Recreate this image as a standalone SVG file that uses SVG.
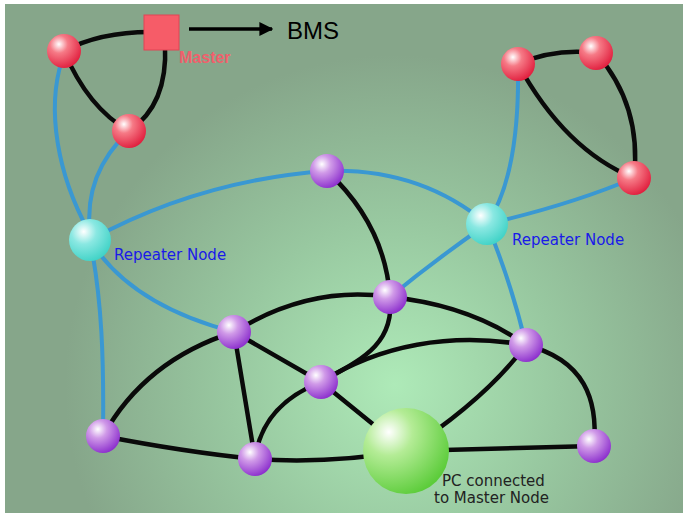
<svg xmlns="http://www.w3.org/2000/svg" width="683" height="517" viewBox="0 0 683 517">
<defs>
<radialGradient id="bg" cx="395" cy="385" r="330" gradientUnits="userSpaceOnUse">
<stop offset="0" stop-color="#aeeab8"/>
<stop offset="0.5" stop-color="#98c8a0"/>
<stop offset="1" stop-color="#86a68a"/>
</radialGradient>
<radialGradient id="red" cx="0.35" cy="0.3" r="0.75">
<stop offset="0" stop-color="#ffffff"/>
<stop offset="0.35" stop-color="#f67a86"/>
<stop offset="1" stop-color="#e01c3c"/>
</radialGradient>
<radialGradient id="purple" cx="0.35" cy="0.3" r="0.75">
<stop offset="0" stop-color="#ffffff"/>
<stop offset="0.35" stop-color="#d09ae8"/>
<stop offset="1" stop-color="#8a2ccc"/>
</radialGradient>
<radialGradient id="cyan" cx="0.35" cy="0.3" r="0.75">
<stop offset="0" stop-color="#ffffff"/>
<stop offset="0.4" stop-color="#8ae8e2"/>
<stop offset="1" stop-color="#3ed2c6"/>
</radialGradient>
<radialGradient id="green" cx="0.3" cy="0.28" r="0.78">
<stop offset="0" stop-color="#ffffff"/>
<stop offset="0.35" stop-color="#b4ec96"/>
<stop offset="1" stop-color="#5ccc3a"/>
</radialGradient>
<marker id="arrow" viewBox="0 0 10 10" refX="9" refY="5" markerWidth="4" markerHeight="4" orient="auto" markerUnits="strokeWidth">
<path d="M0,0 L10,5 L0,10 Z" fill="#000"/>
</marker>
</defs>
<style>
.blk{fill:none;stroke:#0a0a0a;stroke-width:4.5;stroke-linecap:round}
.blu{fill:none;stroke:#3a98d2;stroke-width:4;stroke-linecap:round}
.lbl{font-family:"DejaVu Sans","Liberation Sans",sans-serif;font-size:15px}
</style>
<rect x="0" y="0" width="683" height="517" fill="#ffffff"/>
<rect x="5" y="4" width="678" height="509" fill="url(#bg)"/>
<g id="connectors">
<path class="blk" d="M64,51 Q100,32 150,32"/>
<path class="blk" d="M165,45 Q168,105 129,131"/>
<path class="blk" d="M64,51 Q88,108 129,131"/>
<path class="blk" d="M518,64 Q555,48 596,53"/>
<path class="blk" d="M596,53 Q642,105 634,178"/>
<path class="blk" d="M518,64 Q565,150 634,178"/>
<path class="blu" d="M62,60 C46,110 58,175 88,230"/>
<path class="blu" d="M129,131 C98,160 86,195 90,232"/>
<path class="blu" d="M90,240 Q200,180 327,171"/>
<path class="blu" d="M327,171 Q420,168 487,224"/>
<path class="blu" d="M90,240 Q130,305 234,332"/>
<path class="blu" d="M90,240 C102,300 104,360 103,436"/>
<path class="blu" d="M518,64 Q520,175 487,224"/>
<path class="blu" d="M487,224 Q570,205 634,178"/>
<path class="blu" d="M487,224 Q435,260 390,297"/>
<path class="blu" d="M487,224 Q512,285 526,345"/>
<path class="blk" d="M327,171 Q385,225 390,297"/>
<path class="blk" d="M234,332 Q310,285 390,297"/>
<path class="blk" d="M390,297 Q470,305 526,345"/>
<path class="blk" d="M390,297 C395,345 360,360 321,382"/>
<path class="blk" d="M321,382 C380,345 450,332 526,345"/>
<path class="blk" d="M234,332 L321,382"/>
<path class="blk" d="M234,332 L255,459"/>
<path class="blk" d="M234,332 Q145,360 103,436"/>
<path class="blk" d="M103,436 Q185,452 255,459"/>
<path class="blk" d="M255,459 Q262,405 321,382"/>
<path class="blk" d="M255,459 Q330,464 406,451"/>
<path class="blk" d="M321,382 L406,451"/>
<path class="blk" d="M406,451 Q485,400 526,345"/>
<path class="blk" d="M406,451 L594,446"/>
<path class="blk" d="M526,345 C585,360 598,400 594,446"/>
<path d="M189,29 L272,29" fill="none" stroke="#000" stroke-width="3.5" marker-end="url(#arrow)"/>
</g>
<g id="master">
<rect x="144" y="15" width="35" height="35" fill="#f65c68" stroke="#e04454" stroke-width="1"/>
<text x="179" y="63" font-family="'Liberation Sans',Arial,sans-serif" font-weight="bold" font-size="16" fill="#f0606c">Master</text>
</g>
<g id="bms">
<text x="287" y="39" font-family="'Liberation Sans',Arial,sans-serif" font-size="24" fill="#000">BMS</text>
</g>
<g id="redA"><circle cx="64" cy="51" r="17" fill="url(#red)"/></g>
<g id="redB"><circle cx="129" cy="131" r="17" fill="url(#red)"/></g>
<g id="redC"><circle cx="518" cy="64" r="17" fill="url(#red)"/></g>
<g id="redD"><circle cx="596" cy="53" r="17" fill="url(#red)"/></g>
<g id="redE"><circle cx="634" cy="178" r="17" fill="url(#red)"/></g>
<g id="repeaterL">
<circle cx="90" cy="240" r="21" fill="url(#cyan)"/>
<text class="lbl" x="114" y="260" fill="#1a1ae8">Repeater Node</text>
</g>
<g id="repeaterR">
<circle cx="487" cy="224" r="21" fill="url(#cyan)"/>
<text class="lbl" x="512" y="245" fill="#1a1ae8">Repeater Node</text>
</g>
<g id="p1"><circle cx="327" cy="171" r="17" fill="url(#purple)"/></g>
<g id="p2"><circle cx="390" cy="297" r="17" fill="url(#purple)"/></g>
<g id="p3"><circle cx="234" cy="332" r="17" fill="url(#purple)"/></g>
<g id="p4"><circle cx="526" cy="345" r="17" fill="url(#purple)"/></g>
<g id="p5"><circle cx="321" cy="382" r="17" fill="url(#purple)"/></g>
<g id="p6"><circle cx="103" cy="436" r="17" fill="url(#purple)"/></g>
<g id="p7"><circle cx="255" cy="459" r="17" fill="url(#purple)"/></g>
<g id="p8"><circle cx="594" cy="446" r="17" fill="url(#purple)"/></g>
<g id="pc">
<circle cx="406" cy="451" r="43" fill="url(#green)"/>
<text class="lbl" x="442" y="486" fill="#222">PC connected</text>
<text class="lbl" x="434" y="503" fill="#222">to Master Node</text>
</g>
</svg>
